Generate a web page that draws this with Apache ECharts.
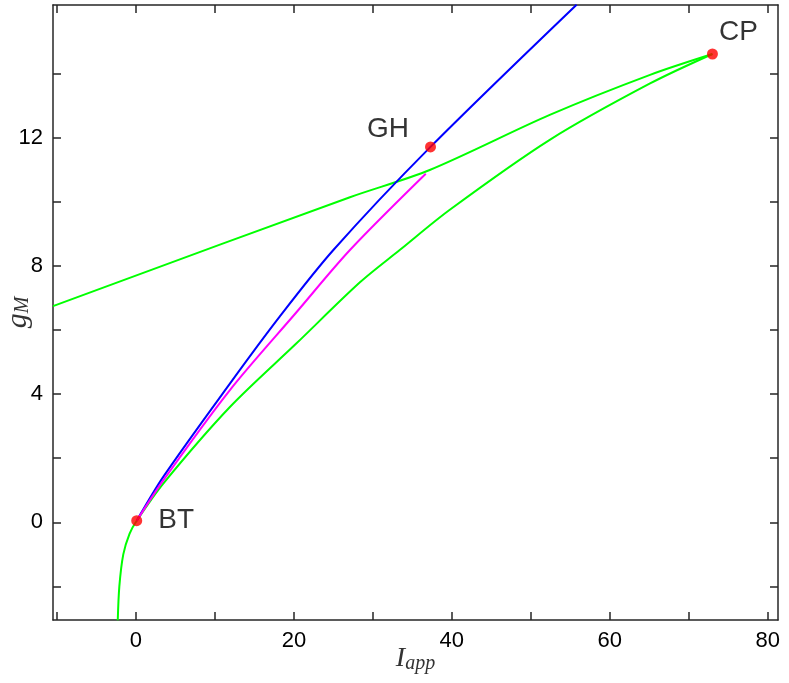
<!DOCTYPE html>
<html><head><meta charset="utf-8">
<script src="https://cdn.jsdelivr.net/npm/echarts@6/dist/echarts.min.js"></script>
<style>html,body{margin:0;padding:0;background:#fff}#c{width:789px;height:683px}</style>
</head><body><div id="c"></div>
<script>
const blue = [[0.1,0.05],[3.46,1.42],[11.9,4.33],[18.2,6.42],[25.0,8.5],[37.3,11.72],[55.8,16.16]];
const magenta = [[0.1,0.05],[3.46,1.31],[11.9,4.13],[20.3,6.55],[27.1,8.5],[36.7,10.88]];
const greenLower = [[-2.3,-3.06],[-2.1,-2.0],[-1.6,-1.0],[-0.8,-0.35],[0.1,0.05],[3.46,1.21],[11.9,3.6],[20.3,5.58],[28.4,7.5],[33.4,8.5],[39.7,9.75],[52.4,11.94],[65.1,13.7],[73.0,14.62]];
const greenUpper = [[-10.5,6.75],[27.1,10.15],[37.2,11.0],[52.4,12.72],[65.1,13.97],[73.0,14.62]];
const points = [{name:'BT',v:[0.1,0.05]},{name:'GH',v:[37.3,11.72]},{name:'CP',v:[73.0,14.62]}];
const xTicks = [-10,0,10,20,30,40,50,60,70,80];
const xLabels = [0,20,40,60,80];
const yTicks = [-2,0,2,4,6,8,10,12,14];
const yLabels = [0,4,8,12];

const axC = '#262626';
function ax(type, pos, show, ticks, labels){
  return {type:'value', position:pos, min: type==='x'?-10.5:-3.05, max: type==='x'?81.3:16.15,
    nameMoveOverlap:false,
    axisLine:{show:true,onZero:false,lineStyle:{color:axC,width:1.5}},
    axisTick:{show:true,inside:true,length:8,customValues:ticks,lineStyle:{color:axC,width:1.5}},
    axisLabel:{show:show,customValues:labels,color:'#000',fontSize:22,fontFamily:'Liberation Sans',margin:10},
    splitLine:{show:false}};
}
const chart = echarts.init(document.getElementById('c'));
const xb = ax('x','bottom',true,xTicks,xLabels);
xb.name='{i|I}{s|app}'; xb.nameLocation='middle'; xb.nameGap=24;
xb.nameTextStyle={rich:{i:{fontFamily:'Liberation Serif',fontStyle:'italic',fontSize:28,color:'#333'},s:{fontFamily:'Liberation Serif',fontStyle:'italic',fontSize:20,color:'#333',padding:[10,0,0,0]}}};
const yl = ax('y','left',true,yTicks,yLabels);
yl.name='{i|g}{s|M}'; yl.nameLocation='middle'; yl.nameGap=20; yl.nameRotate=90;
yl.nameTextStyle={rich:{i:{fontFamily:'Liberation Serif',fontStyle:'italic',fontSize:30,color:'#333'},s:{fontFamily:'Liberation Serif',fontStyle:'italic',fontSize:20,color:'#333',padding:[10,0,0,0]}}};
const line=(d,c)=>({type:'line',data:d,smooth:0.3,showSymbol:false,lineStyle:{color:c,width:2},z:2});
chart.setOption({
  animation:false,
  grid:{left:53,right:11,top:5,bottom:63,containLabel:false,outerBoundsMode:'none'},
  xAxis:[xb, ax('x','top',false,xTicks,[])],
  yAxis:[yl, ax('y','right',false,yTicks,[])],
  series:[
    line(greenLower,'#00ff00'), line(greenUpper,'#00ff00'),
    line(blue,'#0000ff'), line(magenta,'#ff00ff'),
    {type:'scatter',symbolSize:11,itemStyle:{color:'#ff0000'},z:5,
     data:points.map((p,i)=>({value:p.v,label:{show:true,formatter:p.name,fontSize:28,color:'#000',fontFamily:'Liberation Sans',
       position: i===0?'right':(i===1?'left':'top'), distance: i===0?16:(i===1?16:0), offset: i===1?[0,-18]:(i===2?[26,-2]:[0,0])}}))}
  ]
});
</script></body></html>
